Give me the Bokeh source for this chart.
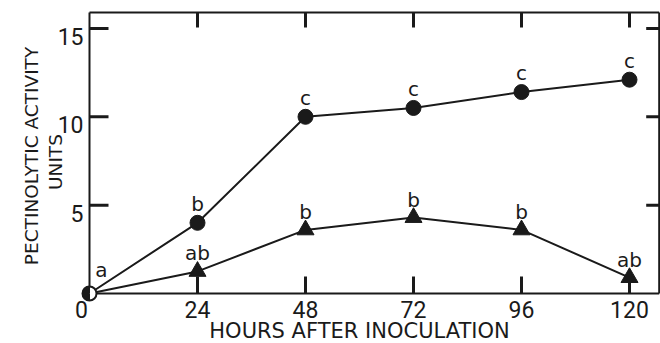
from bokeh.plotting import figure
from bokeh.models import Range1d
from bokeh.core.properties import value
from bokeh.embed import file_html
from bokeh.resources import INLINE

# ---- data ----
hours = [0, 24, 48, 72, 96, 120]
circle_units = [0, 4.0, 10.0, 10.5, 11.4, 12.1]
triangle_units = [0, 1.25, 3.6, 4.3, 3.6, 0.9]
circle_letters = ["a", "b", "c", "c", "c", "c"]
triangle_letters = ["", "ab", "b", "b", "b", "ab"]
x_ticks = [0, 24, 48, 72, 96, 120]
x_inner_ticks = [24, 48, 72, 96, 120]
y_ticks = [5, 10, 15]
x_title = "HOURS AFTER INOCULATION"
y_title_line1 = "PECTINOLYTIC  ACTIVITY"
y_title_line2 = "UNITS"

FONT = "DejaVu Sans"
TICK_FONT = "Roboto"
INK = "#1a1a1a"

W, H = 660, 343
# the plotting frame covers the whole canvas; axes are drawn by hand
XPPU = 4.5      # pixels per hour
YPPU = 17.67    # pixels per activity unit
X0 = -89 / XPPU
X1 = X0 + W / XPPU
Y0 = -(H - 293) / YPPU
Y1 = Y0 + H / YPPU
X_END = 126.6   # right edge of the axis box
Y_TOP = 15.9    # top edge of the axis box

p = figure(width=W, height=H, output_backend="svg", toolbar_location=None,
           x_range=Range1d(X0, X1), y_range=Range1d(Y0, Y1),
           min_border=0)
p.outline_line_color = None
p.axis.visible = False
p.grid.visible = False
p.background_fill_color = "white"
p.border_fill_color = "white"

# axis box
p.segment(x0=[0, 0, 0, X_END], y0=[0, 0, Y_TOP, 0],
          x1=[X_END, 0, X_END, X_END], y1=[0, Y_TOP, Y_TOP, Y_TOP],
          line_color=INK, line_width=2)

# inward tick marks as thin filled bars (pixel sizes converted to data units)
hw_x, hw_y = 1.5 / XPPU, 1.5 / YPPU
nx, ny = len(x_inner_ticks), len(y_ticks)
p.quad(left=[t - hw_x for t in x_inner_ticks], right=[t + hw_x for t in x_inner_ticks],
       bottom=[0] * nx, top=[17 / YPPU] * nx, fill_color=INK, line_color=None)
p.quad(left=[t - hw_x for t in x_inner_ticks], right=[t + hw_x for t in x_inner_ticks],
       bottom=[Y_TOP - 15 / YPPU] * nx, top=[Y_TOP] * nx, fill_color=INK, line_color=None)
p.quad(left=[0] * ny, right=[19 / XPPU] * ny,
       bottom=[t - hw_y for t in y_ticks], top=[t + hw_y for t in y_ticks],
       fill_color=INK, line_color=None)
p.quad(left=[X_END - 13 / XPPU] * ny, right=[X_END] * ny,
       bottom=[t - hw_y for t in y_ticks], top=[t + hw_y for t in y_ticks],
       fill_color=INK, line_color=None)

# tick labels
p.text(x_ticks[:1], [0], text=[str(t) for t in x_ticks[:1]], text_align="center",
       text_baseline="alphabetic", x_offset=-8, y_offset=16, text_font=value(TICK_FONT),
       text_font_size="23px", text_color=INK)
p.text(x_ticks[1:], [0] * (len(x_ticks) - 1), text=[str(t) for t in x_ticks[1:]],
       text_align="center", text_baseline="alphabetic", y_offset=16,
       text_font=value(TICK_FONT), text_font_size="23px", text_color=INK)
p.text([0] * ny, y_ticks, text=[str(t) for t in y_ticks], text_align="right",
       text_baseline="alphabetic", x_offset=-6, y_offset=8, text_font=value(TICK_FONT),
       text_font_size="23px", text_color=INK)

# axis titles
p.text([60], [0], text=[x_title], text_align="center", text_baseline="alphabetic",
       y_offset=37, text_font=value(FONT), text_font_size="21px", text_color=INK)
p.text([0], [Y_TOP / 2], text=[y_title_line1], angle=90, angle_units="deg",
       text_align="center", text_baseline="middle", x_offset=-58, y_offset=0,
       text_font=value(FONT), text_font_size="18.5px", text_color=INK)
p.text([0], [Y_TOP / 2], text=[y_title_line2], angle=90, angle_units="deg",
       text_align="center", text_baseline="middle", x_offset=-34, y_offset=9,
       text_font=value(FONT), text_font_size="18.5px", text_color=INK)

# data lines
p.line(hours, circle_units, line_color=INK, line_width=2)
p.line(hours, triangle_units, line_color=INK, line_width=2)

# markers
p.scatter(hours[1:], circle_units[1:], marker="circle", size=15,
          fill_color=INK, line_color=INK)
p.scatter(hours[1:], triangle_units[1:], marker="triangle", size=17,
          fill_color=INK, line_color=INK)
# half-filled origin marker
p.scatter(hours[:1], circle_units[:1], marker="circle", size=14,
          fill_color="white", line_color=INK, line_width=2)
p.wedge(hours[:1], circle_units[:1], radius=7, radius_units="screen",
        start_angle=90, end_angle=270, start_angle_units="deg", end_angle_units="deg",
        fill_color=INK, line_color=INK)

# significance letters
p.text(hours[1:], circle_units[1:], text=circle_letters[1:], text_align="center",
       text_baseline="alphabetic", y_offset=-19, text_font=value(FONT),
       text_font_size="20px", text_color=INK)
p.text(hours[:1], circle_units[:1], text=circle_letters[:1], text_align="center",
       text_baseline="alphabetic", x_offset=12, y_offset=-24, text_font=value(FONT),
       text_font_size="20px", text_color=INK)
p.text(hours[1:], triangle_units[1:], text=triangle_letters[1:], text_align="center",
       text_baseline="alphabetic", y_offset=-18, text_font=value(FONT),
       text_font_size="20px", text_color=INK)

open("out.html", "w").write(file_html(p, INLINE))
